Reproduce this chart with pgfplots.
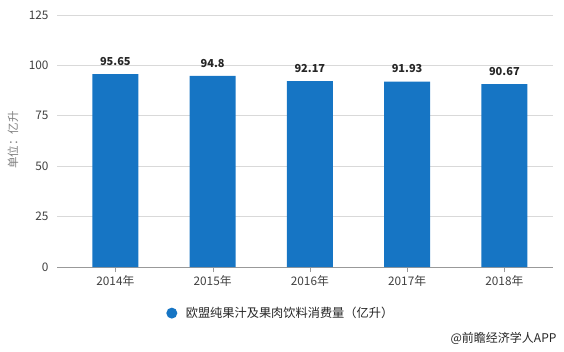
\documentclass[border=0pt]{standalone}
\usepackage{pgfplots}
\pgfplotsset{compat=1.18}
\usepackage{fontspec}
\setmainfont{Noto Sans CJK SC}
\definecolor{barblue}{RGB}{22,117,196}
\definecolor{gridgray}{RGB}{217,217,217}
\definecolor{ticktext}{RGB}{64,64,64}
\definecolor{labtext}{RGB}{38,38,38}
\begin{document}
\begin{tikzpicture}[x=1pt,y=1pt]
\useasboundingbox (0,0) rectangle (564,351);
\begin{axis}[
  at={(57pt,84pt)}, anchor=south west,
  width=496pt, height=252pt, scale only axis,
  ymin=0, ymax=125, ytick={0,25,...,125},
  xmin=-0.6, xmax=4.5, xtick={0,1,2,3,4},
  xticklabels={2014年,2015年,2016年,2017年,2018年},
  axis x line*=bottom, axis y line*=left,
  y axis line style={draw=none},
  x axis line style={draw=gray!80, -},
  ytick style={draw=none},
  xtick style={draw=gray!80},
  tick align=outside, major tick length=5pt,
  ymajorgrids, grid style={gridgray, line width=0.7pt},
  tick label style={font=\fontsize{11.8}{13}\selectfont, text=ticktext},
  /pgf/number format/assume math mode=true,
  ybar, bar width=46pt,
  nodes near coords, point meta=explicit symbolic,
  nodes near coords style={font=\bfseries\fontsize{11}{12}\selectfont, text=labtext, yshift=5pt},
  legend style={draw=none, at={(axis description cs:0.22,-0.183)}, anchor=west,
    font=\fontsize{12.2}{14}\selectfont, text=labtext, inner sep=0pt},
  legend image code/.code={\fill[barblue] (4pt,0pt) circle (5.5pt); \path (16pt,0pt);},
]
\addplot[fill=barblue, draw=none] table[meta=lab] {
x y lab
0 95.65 95.65
1 94.8 94.8
2 92.17 92.17
3 91.93 91.93
4 90.67 90.67
};
\addlegendentry{欧盟纯果汁及果肉饮料消费量（亿升）}
\end{axis}
\node[rotate=90, font=\fontsize{11.5}{13}\selectfont, text=gray] at (13,211) {单位：亿升};
\node[anchor=east, font=\fontsize{12}{14}\selectfont, text=labtext] at (560,13) {@前瞻经济学人APP};
\end{tikzpicture}
\end{document}
